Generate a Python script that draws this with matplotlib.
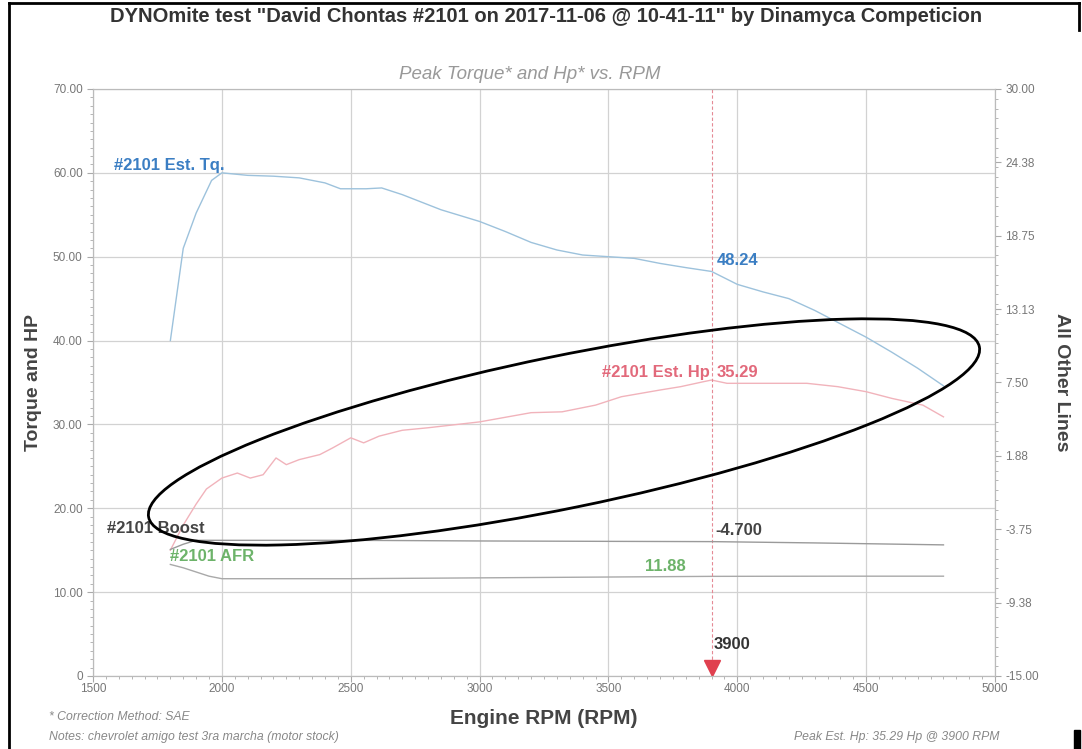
import numpy as np
import matplotlib
matplotlib.use('Agg')
import matplotlib.pyplot as plt
from matplotlib.patches import Ellipse, Rectangle
from matplotlib.lines import Line2D
from matplotlib.ticker import MultipleLocator

plt.rcParams['font.family'] = ['Liberation Sans Narrow', 'Liberation Sans', 'DejaVu Sans']

# data read from the dyno sheet
rpm_tq = [1800, 1850, 1900, 1960, 2000, 2100, 2200, 2300, 2400, 2460, 2560, 2620, 2700,
          2850, 3000, 3100, 3200, 3300, 3400, 3500, 3600, 3700, 3800, 3900, 4000, 4100,
          4200, 4300, 4400, 4500, 4600, 4700, 4800]
tq = [40.0, 51.0, 55.2, 59.1, 60.0, 59.7, 59.6, 59.4, 58.8, 58.1, 58.1, 58.2, 57.4,
      55.6, 54.2, 53.0, 51.7, 50.8, 50.2, 50.0, 49.8, 49.2, 48.7, 48.24, 46.7, 45.8,
      45.0, 43.6, 42.0, 40.4, 38.6, 36.7, 34.6]

rpm_hp = [1800, 1850, 1900, 1940, 2000, 2060, 2110, 2160, 2210, 2250, 2300, 2380, 2430,
          2500, 2550, 2610, 2700, 2800, 3000, 3200, 3320, 3450, 3550, 3700, 3780, 3870,
          3900, 3960, 4100, 4270, 4390, 4500, 4600, 4720, 4800]
hp = [15.0, 18.0, 20.5, 22.3, 23.6, 24.2, 23.6, 24.0, 26.0, 25.2, 25.8, 26.4, 27.2,
      28.4, 27.8, 28.6, 29.3, 29.6, 30.3, 31.4, 31.5, 32.3, 33.3, 34.1, 34.5, 35.1,
      35.29, 34.9, 34.9, 34.9, 34.5, 33.9, 33.1, 32.3, 30.9]

rpm_boost = [1800, 1850, 1900, 2000, 2500, 3000, 3500, 3900, 4300, 4800]
boost = [-5.3, -4.9, -4.6, -4.6, -4.6, -4.65, -4.68, -4.70, -4.8, -4.95]

rpm_afr = [1800, 1850, 1900, 1950, 2000, 2500, 3000, 3500, 3900, 4400, 4800]
afr = [13.3, 12.9, 12.4, 11.9, 11.6, 11.6, 11.7, 11.8, 11.88, 11.9, 11.9]

peak_rpm = 3900
left_ticks = [0, 10, 20, 30, 40, 50, 60, 70]
left_labels = ['0', '10.00', '20.00', '30.00', '40.00', '50.00', '60.00', '70.00']
right_ticks = np.linspace(-15, 30, 9)
right_labels = ['-15.00', '-9.38', '-3.75', '1.88', '7.50', '13.13', '18.75', '24.38', '30.00']
x_ticks = [1500, 2000, 2500, 3000, 3500, 4000, 4500, 5000]

fig = plt.figure(figsize=(10.82, 7.49), dpi=100)
ax = fig.add_axes([0.086, 0.0975, 0.8336, 0.7837])
ax2 = ax.twinx()

grid_c = '#d2d2d2'
tick_c = '#777777'

ax.set_xlim(1500, 5000)
ax.set_ylim(0, 70)
ax2.set_ylim(-15, 30)
ax.set_xticks(x_ticks)
ax.set_yticks(left_ticks)
ax.set_yticklabels(left_labels)
ax2.set_yticks(right_ticks)
ax2.set_yticklabels(right_labels)
ax.xaxis.set_minor_locator(MultipleLocator(50))
ax.yaxis.set_minor_locator(MultipleLocator(1))
ax2.yaxis.set_minor_locator(MultipleLocator(0.75))
ax.grid(True, color=grid_c, lw=0.9)
for a in (ax, ax2):
    for s in a.spines.values():
        s.set_color('#bbbbbb')
        s.set_linewidth(0.8)
    a.tick_params(which='both', colors='#aaaaaa', labelcolor=tick_c, labelsize=8.5)
    a.tick_params(which='major', length=4)
    a.tick_params(which='minor', length=2)
ax.tick_params(axis='x', pad=1)

# curves
ax.plot(rpm_tq, tq, color='#9dc2dc', lw=1.0)
ax.plot(rpm_hp, hp, color='#f1b3bb', lw=1.0)
ax.plot(rpm_afr, afr, color='#a9a9a9', lw=1.0)
ax2.plot(rpm_boost, boost, color='#9a9a9a', lw=1.0)

# peak marker
ax.axvline(peak_rpm, color='#e58a95', lw=0.8, ls=(0, (3, 2)))
ax.plot([peak_rpm], [1.0], marker='v', color='#e0404f', ms=11, clip_on=False)
ax.text(peak_rpm + 10, 3.2, str(peak_rpm), fontsize=12, fontweight='bold', color='#333333')

# line labels
ax.text(1580, 60.9, '#2101 Est. Tq.', fontsize=12, fontweight='bold', color='#3b7ec3', va='center')
ax.text(3920, 49.5, '48.24', fontsize=12, fontweight='bold', color='#3b7ec3', va='center')
ax.text(3895, 36.2, '#2101 Est. Hp', fontsize=12, fontweight='bold', color='#e2697b',
        va='center', ha='right')
ax.text(3920, 36.2, '35.29', fontsize=12, fontweight='bold', color='#e2697b', va='center')
ax.text(1555, 17.6, '#2101 Boost', fontsize=12, fontweight='bold', color='#444444', va='center')
ax.text(1800, 14.3, '#2101 AFR', fontsize=12, fontweight='bold', color='#6db36a', va='center')
ax.text(3915, 17.3, '-4.700', fontsize=12, fontweight='bold', color='#444444', va='center')
ax.text(3640, 13.1, '11.88', fontsize=12, fontweight='bold', color='#6db36a', va='center')

ax.set_xlabel('Engine RPM (RPM)', fontsize=15, fontweight='bold', color='#444444', labelpad=10)
ax.set_ylabel('Torque and HP', fontsize=14, fontweight='bold', color='#444444', labelpad=8)
ax2.set_ylabel('All Other Lines', fontsize=14, fontweight='bold', color='#444444',
               rotation=-90, labelpad=22)

fig.text(0.505, 0.978, 'DYNOmite test "David Chontas #2101 on 2017-11-06 @ 10-41-11" by Dinamyca Competicion',
         ha='center', va='center', fontsize=14.5, fontweight='bold', color='#333333')
fig.text(0.49, 0.901, 'Peak Torque* and Hp* vs. RPM', ha='center', va='center',
         fontsize=13.5, style='italic', color='#999999')
fig.text(0.045, 0.043, '* Correction Method: SAE', fontsize=8.8, style='italic', color='#888888', va='center')
fig.text(0.045, 0.016, 'Notes: chevrolet amigo test 3ra marcha (motor stock)', fontsize=8.8,
         style='italic', color='#888888', va='center')
fig.text(0.924, 0.016, 'Peak Est. Hp: 35.29 Hp @ 3900 RPM', fontsize=8.8, style='italic',
         color='#888888', va='center', ha='right')

# hand-drawn ellipse on the scanned sheet
fig.add_artist(Ellipse((5.64, 3.17), 8.48, 1.52, angle=11.6, transform=fig.dpi_scale_trans,
                       fill=False, ec='black', lw=2))
# page border of the scan (left and top edges, corner mark at bottom right)
fig.add_artist(Line2D([0.008, 0.008], [0.0, 0.996], transform=fig.transFigure, color='black', lw=2))
fig.add_artist(Line2D([0.008, 0.997], [0.996, 0.996], transform=fig.transFigure, color='black', lw=2))
fig.add_artist(Line2D([0.997, 0.997], [0.996, 0.96], transform=fig.transFigure, color='black', lw=2))
fig.add_artist(Rectangle((0.993, 0.0), 0.005, 0.025, transform=fig.transFigure, color='black'))

fig.savefig('out.png', dpi=100)
